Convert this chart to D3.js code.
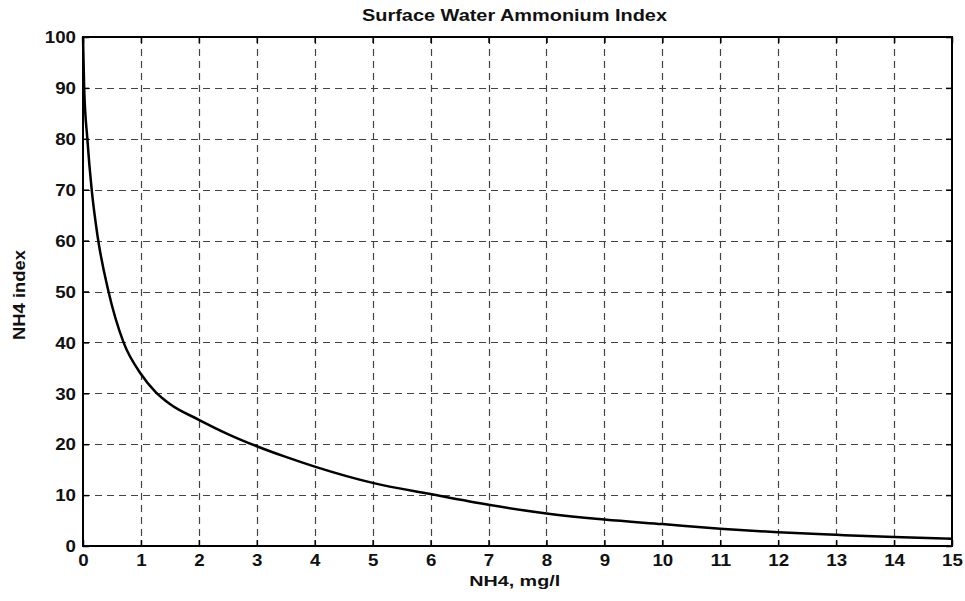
<!DOCTYPE html>
<html>
<head>
<meta charset="utf-8">
<script src="https://cdn.jsdelivr.net/npm/d3@7"></script>
<style>
html,body{margin:0;padding:0;background:#fff;}
svg{display:block;}
text{font-family:"Liberation Sans",Arial,sans-serif;font-weight:bold;fill:#111;}
</style>
</head>
<body>
<svg id="chart" width="965" height="601"></svg>
<script>
const title = "Surface Water Ammonium Index";
const xLabel = "NH4, mg/l";
const yLabel = "NH4 index";
const xTicks = [0,1,2,3,4,5,6,7,8,9,10,11,12,13,14,15];
const yTicks = [0,10,20,30,40,50,60,70,80,90,100];
const nh4 = [0, 0.02, 0.075, 0.15, 0.25, 0.44, 0.70, 1.0, 1.25, 1.5, 2, 2.5, 3, 3.5, 4, 5, 6, 7, 8, 9, 10, 11, 12, 13, 14, 15];
const index = [100, 90, 80, 70, 61, 50, 40, 33.8, 30.3, 27.9, 24.8, 22.0, 19.6, 17.5, 15.6, 12.4, 10.2, 8.1, 6.4, 5.2, 4.3, 3.4, 2.7, 2.2, 1.75, 1.4];

const svg = d3.select("#chart");
const m = {left:83, right:965-952, top:37, bottom:601-546};
const W = 965 - m.left - m.right, H = 601 - m.top - m.bottom;
const x = d3.scaleLinear().domain([0,15]).range([m.left, m.left+W]);
const y = d3.scaleLinear().domain([0,100]).range([m.top+H, m.top]);

// grid
const grid = svg.append("g").attr("stroke","#444").attr("stroke-width",1.2).attr("stroke-dasharray","7,5");
grid.selectAll(".gx").data(xTicks.slice(1,-1)).join("line")
  .attr("x1",d=>Math.round(x(d))+0.5).attr("x2",d=>Math.round(x(d))+0.5)
  .attr("y1",m.top).attr("y2",m.top+H);
grid.selectAll(".gy").data(yTicks.slice(1,-1)).join("line")
  .attr("y1",d=>Math.round(y(d))+0.5).attr("y2",d=>Math.round(y(d))+0.5)
  .attr("x1",m.left).attr("x2",m.left+W);

// curve
const line = d3.line().x((d,i)=>x(nh4[i])).y(d=>y(d)).curve(d3.curveMonotoneX);
svg.append("path").datum(index).attr("d",line)
  .attr("fill","none").attr("stroke","#000").attr("stroke-width",2.5).attr("stroke-linejoin","round");

// axes (inward ticks, MATLAB style)
function styleAxis(g){
  g.select(".domain").remove();
  g.selectAll(".tick line").attr("stroke","#000").attr("stroke-width",1.5);
}
const ax = svg.append("g").attr("transform",`translate(0,${m.top+H})`)
  .call(d3.axisBottom(x).tickValues(xTicks).tickSize(-6).tickPadding(8).tickFormat(d3.format("d")));
styleAxis(ax);
ax.selectAll("text").attr("font-size",16).attr("fill","#111")
  .attr("dy",null).attr("y",20)
  .attr("textLength",d=>String(d).length*10.4).attr("lengthAdjust","spacingAndGlyphs");

const axT = svg.append("g").attr("transform",`translate(0,${m.top})`)
  .call(d3.axisTop(x).tickValues(xTicks).tickSize(-6).tickFormat(""));
styleAxis(axT);

const ay = svg.append("g").attr("transform",`translate(${m.left},0)`)
  .call(d3.axisLeft(y).tickValues(yTicks).tickSize(-6).tickFormat(d3.format("d")));
styleAxis(ay);
ay.selectAll("text").attr("font-size",16).attr("fill","#111")
  .attr("x",-7).attr("dy","0.36em")
  .attr("textLength",d=>String(d).length*10.4).attr("lengthAdjust","spacingAndGlyphs");

const ayR = svg.append("g").attr("transform",`translate(${m.left+W},0)`)
  .call(d3.axisRight(y).tickValues(yTicks).tickSize(-6).tickFormat(""));
styleAxis(ayR);

// frame
svg.append("rect").attr("x",m.left).attr("y",m.top).attr("width",W).attr("height",H)
  .attr("fill","none").attr("stroke","#000").attr("stroke-width",2);

// labels
svg.append("text").attr("x",514.5).attr("y",21).attr("text-anchor","middle")
  .attr("font-size",16).attr("textLength",305).attr("lengthAdjust","spacingAndGlyphs").text(title);
svg.append("text").attr("x",514.7).attr("y",586).attr("text-anchor","middle")
  .attr("font-size",15).attr("textLength",91).attr("lengthAdjust","spacingAndGlyphs").text(xLabel);
svg.append("text").attr("transform","translate(25,295) rotate(-90)").attr("text-anchor","middle")
  .attr("font-size",16).attr("textLength",90).attr("lengthAdjust","spacingAndGlyphs").text(yLabel);
</script>
</body>
</html>
